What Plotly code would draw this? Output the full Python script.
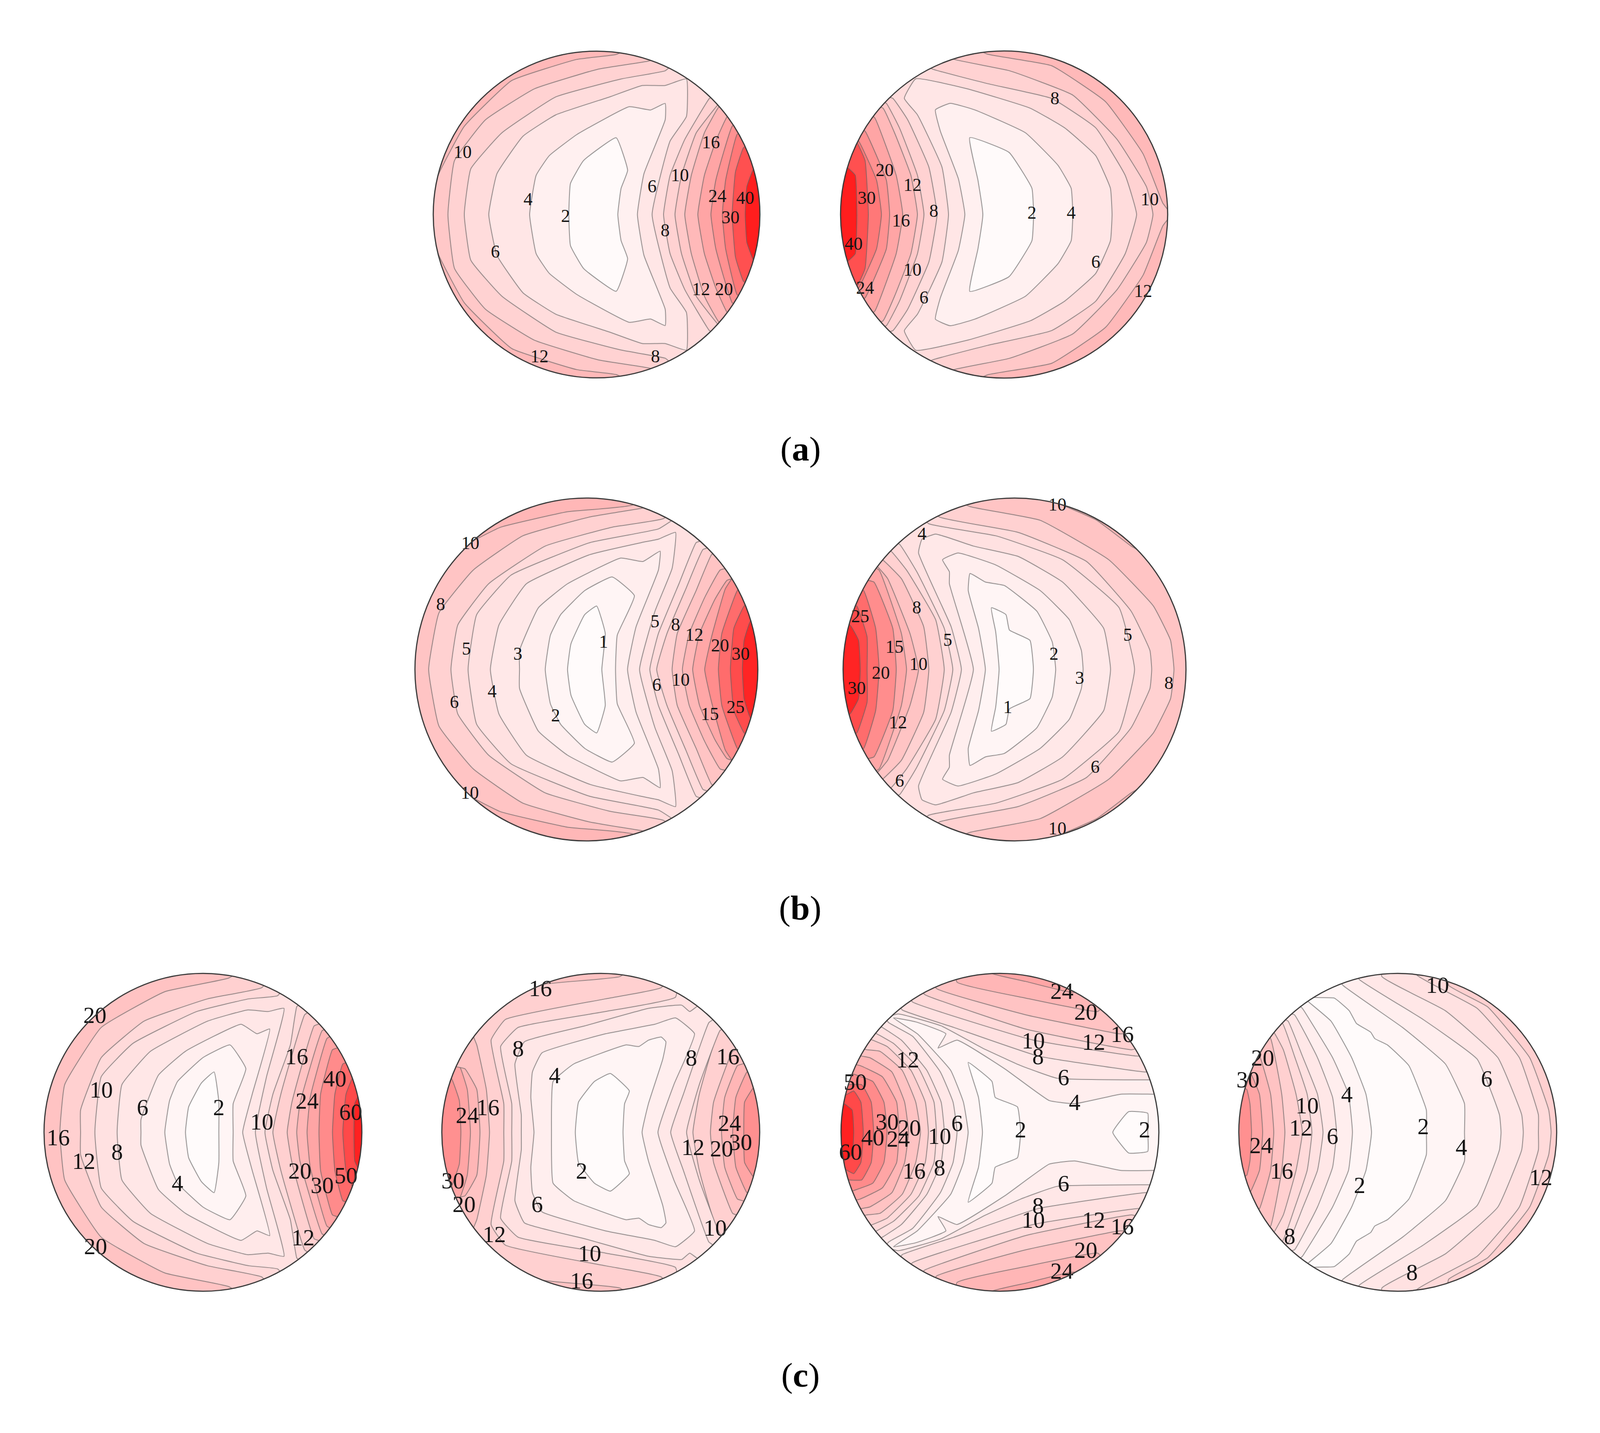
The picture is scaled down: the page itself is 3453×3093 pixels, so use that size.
import numpy as np
import plotly.graph_objects as go

W, H = 3453, 3093

# each entry: level -> (x list, y list), upper half of the contour in unit-disk coords
A1 = {
    2: ([.13, .15, .19, .12, -.08, -.16, -.17], [0, .16, .27, .47, .33, .19, 0]),
    4: ([.25, .29, .42, .42, .33, .20, -.12, -.29, -.37, -.41], [0, .25, .58, .68, .64, .66, .49, .36, .24, 0]),
    6: ([.34, .45, .55, .55, .42, .28, .08, -.25, -.45, -.61, -.66], [0, .45, .60, .83, .79, .79, .72, .61, .48, .25, 0]),
    8: ([.41, .45, .54, .69, .72, .65, .46, .42, .15, -.25, -.58, -.77, -.81], [0, .24, .46, .71, .73, .93, .91, .88, .83, .72, .50, .28, 0]),
    10: ([.48, .52, .61, .75, .78, .54, .32, .01, -.38, -.68, -.87, -.91], [0, .24, .50, .68, .70, 1.0, .94, .89, .77, .58, .33, 0]),
    12: ([.54, .58, .66, .75, .81, .40, .12, -.12, -.52, -.81, -.97, -1.02], [0, .24, .50, .66, .68, 1.10, .98, .95, .82, .54, .24, 0]),
    16: ([.62, .66, .73, .80, .85], [0, .24, .45, .60, .62]),
    20: ([.70, .73, .83, .89], [0, .21, .54, .58]),
    24: ([.77, .79, .86, .92], [0, .21, .49, .53]),
    30: ([.83, .85, .90, .96], [0, .26, .41, .44]),
    40: ([.91, .92, .97, 1.03], [0, .17, .30, .33]),
}
A2 = {
    2: ([-.13, -.16, -.21, .03, .17, .18], [0, .21, .47, .38, .16, 0]),
    4: ([-.24, -.28, -.39, -.42, -.33, -.18, .13, .33, .41, .42], [0, .22, .51, .64, .68, .64, .50, .30, .16, 0]),
    6: ([-.34, -.38, -.53, -.61, -.54, -.23, .16, .37, .56, .65, .66], [0, .29, .61, .71, .83, .77, .65, .53, .36, .16, 0]),
    8: ([-.41, -.46, -.59, -.68, -.74, -.55, -.44, -.10, .29, .56, .74, .81], [0, .29, .58, .71, .73, .95, .89, .80, .71, .53, .24, 0]),
    10: ([-.49, -.53, -.64, -.72, -.77, -.50, -.31, .03, .42, .69, .87, .91], [0, .24, .53, .68, .70, 1.05, .95, .88, .73, .46, .17, 0]),
    12: ([-.53, -.57, -.67, -.74, -.80, -.40, -.10, .29, .62, .85, .97, 1.02], [0, .24, .50, .65, .68, 1.1, .98, .91, .69, .37, .07, 0]),
    16: ([-.62, -.66, -.79, -.85], [0, .24, .59, .64]),
    20: ([-.70, -.72, -.85, -.90], [0, .21, .51, .54]),
    24: ([-.75, -.78, -.89, -.94], [0, .21, .45, .48]),
    30: ([-.83, -.85, -.90, -.95], [0, .33, .44, .46]),
    40: ([-.90, -.91, -.96, -1.0], [0, .24, .29, .32]),
}
B1 = {
    1: ([.09, .11, .06, -.01, -.09, -.11], [0, .21, .37, .32, .15, 0]),
    2: ([.17, .18, .28, .15, -.01, -.15, -.21, -.24], [0, .20, .43, .54, .46, .32, .20, 0]),
    3: ([.24, .29, .42, .43, .33, .20, -.11, -.28, -.39, -.39], [0, .25, .58, .69, .63, .65, .50, .36, .11, 0]),
    4: ([.31, .40, .50, .52, .42, .32, .02, -.35, -.51, -.56], [0, .34, .59, .80, .76, .74, .67, .50, .26, 0]),
    5: ([.37, .42, .54, .64, .69, .61, .50, .42, .02, -.44, -.64, -.69], [0, .21, .50, .74, .76, .95, .87, .82, .74, .55, .32, 0]),
    6: ([.41, .47, .58, .68, .74, .60, .45, .15, -.24, -.57, -.75, -.79], [0, .21, .47, .70, .72, 1.0, .88, .83, .72, .50, .26, 0]),
    8: ([.50, .53, .64, .73, .78, .55, .32, .02, -.37, -.66, -.86, -.92], [0, .21, .46, .67, .70, .98, .94, .89, .78, .58, .33, 0]),
    10: ([.56, .60, .69, .78, .85, .40, .27, -.11, -.50, -.68, -.90, -1.1], [0, .21, .42, .58, .60, 1.1, .96, .92, .83, .74, .60, 0]),
    12: ([.62, .66, .75, .82, .88], [0, .21, .41, .52, .54]),
    15: ([.69, .73, .81, .85, .90], [0, .19, .47, .53, .55]),
    20: ([.77, .79, .88, .93], [0, .21, .46, .50]),
    25: ([.84, .86, .92, .97], [0, .24, .37, .40]),
    30: ([.91, .92, .96, 1.02], [0, .17, .29, .31]),
}
B2 = {
    1: ([-.09, -.11, -.135, -.05, -.03, .09, .11], [0, .22, .36, .32, .23, .17, 0]),
    2: ([-.17, -.21, -.27, -.26, -.17, -.06, .13, .22, .24], [0, .24, .46, .56, .51, .49, .34, .16, 0]),
    3: ([-.24, -.38, -.38, -.42, -.33, -.11, .15, .32, .39, .40], [0, .50, .57, .64, .68, .61, .46, .29, .11, 0]),
    4: ([-.31, -.37, -.56, -.54, -.46, -.24, .02, .28, .52, .56], [0, .25, .68, .76, .79, .72, .66, .51, .24, 0]),
    5: ([-.36, -.41, -.57, -.67, -.72, -.62, -.50, -.11, .28, .61, .70], [0, .24, .57, .73, .75, .95, .85, .78, .64, .36, 0]),
    6: ([-.41, -.46, -.63, -.72, -.77, -.55, -.44, .02, .42, .68, .79, .80], [0, .29, .58, .69, .71, 1.0, .89, .80, .63, .34, .11, 0]),
    8: ([-.50, -.53, -.66, -.77, -.82, -.50, -.26, .15, .55, .81, .91, .93], [0, .25, .53, .64, .66, 1.05, .95, .87, .64, .37, .17, 0]),
    10: ([-.56, -.61, -.74, -.80, -.85, -.20, .25, .48, .68, .75, 1.05, 1.1], [0, .21, .53, .60, .62, 1.1, .97, .87, .72, .68, .50, 0]),
    12: ([-.63, -.66, -.79, -.86], [0, .21, .58, .62]),
    15: ([-.69, -.71, -.82, -.89], [0, .24, .51, .53]),
    20: ([-.79, -.81, -.88, -.95], [0, .24, .46, .49]),
    25: ([-.86, -.86, -.92, -.98], [0, .19, .37, .39]),
    30: ([-.90, -.91, -.96, -1.02], [0, .17, .26, .28]),
}
C1 = {
    2: ([.10, .10, .07, -.01, -.09, -.11], [0, .19, .38, .31, .16, 0]),
    4: ([.19, .19, .27, .17, 0, -.16, -.21, -.24], [0, .18, .40, .55, .47, .32, .20, 0]),
    6: ([.25, .31, .42, .34, .24, -.11, -.28, -.39, -.39], [0, .24, .65, .62, .68, .51, .36, .08, 0]),
    8: ([.33, .40, .51, .41, .28, .03, -.33, -.51, -.54], [0, .35, .78, .76, .77, .70, .51, .30, 0]),
    10: ([.39, .44, .55, .59, .62, .55, .47, .29, -.04, -.44, -.64, -.68], [0, .24, .55, .79, .82, .95, .86, .84, .76, .56, .35, 0]),
    12: ([.44, .49, .64, .68, .45, .37, .03, -.37, -.64, -.77, -.77], [0, .24, .74, .77, 1.0, .91, .84, .70, .47, .14, 0]),
    16: ([.53, .56, .70, .75, .40, .16, -.24, -.64, -.87, -.90], [0, .19, .67, .69, 1.1, .97, .885, .66, .30, 0]),
    20: ([.59, .61, .75, .80], [0, .18, .64, .66]),
    24: ([.655, .675, .78, .83], [0, .22, .59, .62]),
    30: ([.73, .74, .815, .87], [0, .24, .52, .54]),
    40: ([.815, .83, .88, .93], [0, .24, .43, .45]),
    50: ([.88, .90, .95, 1.0], [0, .24, .36, .38]),
    60: ([.95, .955, .985, 1.03], [0, .18, .24, .25]),
}
C2 = {
    2: ([.14, .15, .18, .06, -.04, -.14, -.16], [0, .18, .26, .37, .32, .19, 0]),
    4: ([.26, .30, .39, .41, .38, .30, .24, .16, -.17, -.30, -.31], [0, .18, .46, .57, .60, .58, .54, .55, .43, .32, 0]),
    6: ([.36, .46, .59, .47, .34, .03, -.37, -.43, -.44, -.42], [0, .30, .62, .72, .68, .62, .50, .38, .22, 0]),
    8: ([.44, .52, .68, .72, .62, .56, .51, .30, -.10, -.48, -.54, -.50, -.50], [0, .24, .69, .72, .80, .76, .80, .78, .67, .57, .43, .11, 0]),
    10: ([.54, .62, .75, .78, .50, .47, .03, -.52, -.63, -.56, -.56], [0, .30, .64, .66, 1.0, .85, .76, .66, .54, .18, 0]),
    12: ([.58, .62, .74, .78, .50, .38, .03, -.60, -.69, -.61, -.61], [0, .24, .64, .66, 1.05, .91, .84, .71, .58, .18, 0]),
    16: ([.69, .71, .83, .88, .30, .12, -.37, -.85, -.80, -.78, -.72, -.70], [0, .19, .51, .53, 1.1, .98, .93, .75, .60, .55, .27, 0]),
    20: ([.76, .78, .86, .92, 1.2, -1.2, -.93, -.855, -.78, -.76], [0, .22, .42, .44, 1.2, 1.2, .42, .40, .27, 0]),
    24: ([.83, .85, .92, .98, 1.2, -1.2, -.94, -.89, -.84, -.82], [0, .22, .38, .40, 1.2, 1.2, .44, .42, .27, 0]),
    30: ([.90, .905, .96, 1.0, 1.2, -1.2, -.98, -.94, -.89, -.88], [0, .19, .28, .30, 1.2, 1.2, .36, .34, .20, 0]),
}
C3 = {
    2: ([-.11, -.135, -.20, -.05, -.03, .11, .13], [0, .22, .44, .32, .22, .16, 0]),
    4: ([-.20, -.23, -.31, -.52, -.67, -.53, -.34, -.39, -.27, .03, .31, .47, .76, .96, 1.1, 1.1],
        [0, .19, .39, .62, .72, .695, .62, .53, .58, .40, .20, .18, .24, .24, .24, 0]),
    6: ([-.27, -.295, -.375, -.55, -.70, -.72, -.64, -.37, -.11, .13, .36, .93, 1.1, 1.1],
        [0, .19, .38, .605, .69, .72, .745, .67, .53, .42, .34, .33, .33, 0]),
    8: ([-.35, -.37, -.46, -.62, -.74, -.78, -.65, -.615, -.29, .24, .91, 1.1, 1.1],
        [0, .19, .39, .58, .66, .68, .82, .77, .66, .48, .38, .38, 0]),
    10: ([-.40, -.415, -.51, -.67, -.775, -.82, -.60, -.55, .21, .86, 1.1, 1.1],
         [0, .19, .40, .56, .62, .64, .88, .82, .58, .48, .48, 0]),
    12: ([-.45, -.47, -.56, -.71, -.80, -.85, -.55, -.47, .16, .83, .90, 1.1, 1.1],
         [0, .19, .39, .54, .58, .60, .93, .865, .65, .52, .54, .54, 0]),
    16: ([-.50, -.53, -.615, -.755, -.84, -.90, -.45, -.40, .16, .75, .82, 1.1, 1.1],
         [0, .19, .39, .51, .52, .54, 1.0, .905, .74, .62, .62, .5, 0]),
    20: ([-.575, -.60, -.68, -.82, -.87, -.93, -.30, -.27, .16, .615, .66, 1.2, 1.2],
         [0, .19, .38, .47, .48, .50, 1.1, .945, .845, .76, .80, .6, 0]),
    24: ([-.635, -.65, -.74, -.88, -.95, -.30, -.05, .16, .47, .50, 1.2, 1.2],
         [0, .19, .35, .42, .44, 1.2, 1.0, .95, .88, .95, .8, 0]),
    30: ([-.71, -.73, -.80, -.93, -.98], [0, .19, .32, .37, .39]),
    40: ([-.795, -.81, -.87, -.96, -1.0], [0, .19, .30, .30, .31]),
    50: ([-.86, -.875, -.92, -.98, -1.02], [0, .19, .26, .23, .24]),
    60: ([-.92, -.93, -.98, -1.02], [0, .14, .18, .19]),
}
C3_ISLAND_X = [.71, .81, .93, .93]
C3_ISLAND_Y = [0, .13, .12, 0]
C4 = {
    2: ([-.165, -.20, -.29, -.42, -.56, -.58, -.55, -.53, -.40, -.305, -.26, -.17, -.145, -.065, .07, .18, .18],
        [0, .24, .47, .70, .82, .84, .88, .85, .845, .765, .685, .63, .59, .55, .42, .14, 0]),
    4: ([-.285, -.31, -.41, -.60, -.62, -.40, -.345, .03, .30, .42, .42], [0, .24, .47, .78, .80, 1.0, .925, .66, .43, .18, 0]),
    6: ([-.385, -.41, -.505, -.65, -.69, -.30, -.24, .16, .50, .64, .65], [0, .22, .47, .74, .75, 1.05, .96, .71, .46, .11, 0]),
    8: ([-.47, -.505, -.60, -.69, -.73, -.10, -.10, .30, .63, .78, .79], [0, .24, .48, .70, .72, 1.1, .98, .765, .47, .11, 0]),
    10: ([-.54, -.57, -.65, -.725, -.77, .10, .12, .50, .765, .885, .885], [0, .24, .48, .685, .69, 1.1, .99, .78, .47, .11, 0]),
    12: ([-.60, -.64, -.72, -.78, -.82, .30, .32, .565, .83, .95, .965], [0, .24, .52, .63, .65, 1.05, .925, .79, .47, .14, 0]),
    16: ([-.71, -.73, -.80, -.84], [0, .24, .59, .61]),
    20: ([-.78, -.80, -.87, -.91], [0, .24, .48, .50]),
    24: ([-.85, -.87, -.93, -.97], [0, .24, .38, .40]),
    30: ([-.92, -.93, -.95, -.99], [0, .18, .27, .29]),
}

# contour labels: text, x, y in unit-disk coords
A1_LABELS = [("10", -.82, .38), ("4", -.42, .09), ("2", -.19, -.01), ("6", -.62, -.23), ("6", .34, .17),
             ("10", .51, .24), ("8", .42, -.10), ("16", .70, .44), ("24", .74, .11), ("40", .91, .10),
             ("30", .82, -.02), ("12", .64, -.46), ("20", .78, -.46), ("12", -.35, -.87), ("8", .36, -.87)]
A2_LABELS = [("8", .31, .71), ("20", -.73, .27), ("12", -.56, .18), ("30", -.84, .10), ("8", -.43, .02),
             ("16", -.63, -.04), ("2", .17, .01), ("4", .41, .01), ("10", .89, .09), ("40", -.92, -.18),
             ("10", -.56, -.34), ("6", .56, -.29), ("12", .85, -.47), ("24", -.85, -.45), ("6", -.49, -.51)]
B1_LABELS = [("10", -.68, .74), ("8", -.85, .38), ("5", -.70, .12), ("3", -.40, .09), ("1", .10, .16),
             ("5", .40, .28), ("8", .52, .26), ("12", .63, .20), ("20", .78, .14), ("30", .90, .09),
             ("6", .41, -.09), ("10", .55, -.06), ("4", -.55, -.13), ("6", -.77, -.19), ("2", -.18, -.27),
             ("15", .72, -.26), ("25", .87, -.22), ("10", -.68, -.72)]
B2_LABELS = [("10", .25, .96), ("4", -.54, .79), ("8", -.57, .36), ("25", -.90, .31), ("5", -.39, .17),
             ("5", .66, .20), ("15", -.70, .13), ("2", .23, .09), ("10", -.56, .03), ("20", -.78, -.02),
             ("3", .38, -.05), ("8", .90, -.08), ("30", -.92, -.11), ("1", -.04, -.22), ("12", -.68, -.31),
             ("6", .47, -.57), ("6", -.67, -.65), ("10", .25, -.93)]
C1_LABELS = [("20", -.68, .74), ("16", .59, .48), ("40", .83, .34), ("10", -.64, .27), ("24", .655, .20),
             ("6", -.38, .16), ("2", .10, .16), ("60", .93, .13), ("10", .37, .07), ("16", -.91, -.03),
             ("8", -.54, -.12), ("12", -.75, -.18), ("20", .61, -.24), ("50", .90, -.27), ("30", .75, -.33),
             ("4", -.16, -.32), ("12", .63, -.66), ("20", -.68, -.72)]
C2_LABELS = [("16", -.38, .91), ("8", -.52, .53), ("16", .80, .48), ("8", .57, .47), ("4", -.29, .36),
             ("16", -.71, .16), ("24", -.84, .11), ("24", .81, .06), ("30", .88, -.06), ("12", .58, -.09),
             ("20", .76, -.10), ("2", -.12, -.24), ("30", -.93, -.30), ("20", -.86, -.45), ("6", -.40, -.45),
             ("10", .72, -.60), ("12", -.67, -.64), ("10", -.07, -.76), ("16", -.12, -.93)]
C3_LABELS = [("24", .39, .89), ("20", .54, .76), ("16", .77, .62), ("12", .59, .57), ("12", -.58, .46),
             ("10", .21, .58), ("8", .24, .48), ("6", .40, .35), ("50", -.91, .32), ("4", .47, .19),
             ("30", -.71, .07), ("20", -.57, .03), ("6", -.27, .06), ("2", .13, .02), ("2", .91, .02),
             ("40", -.80, -.03), ("24", -.64, -.04), ("10", -.38, -.02), ("60", -.94, -.12), ("16", -.54, -.24),
             ("8", -.38, -.22), ("6", .40, -.32), ("8", .24, -.46), ("10", .21, -.55), ("12", .59, -.55),
             ("16", .77, -.59), ("20", .54, -.74), ("24", .39, -.87)]
C4_LABELS = [("10", .25, .93), ("20", -.85, .47), ("30", -.96, .34), ("6", .56, .34), ("4", -.32, .24),
             ("10", -.57, .17), ("12", -.61, .03), ("2", .16, .04), ("6", -.41, -.02), ("24", -.86, -.08),
             ("4", .40, -.09), ("16", -.73, -.24), ("12", .90, -.28), ("2", -.24, -.33), ("8", -.68, -.65),
             ("8", .09, -.88)]

CAPTIONS = ["(<b>a</b>)", "(<b>b</b>)", "(<b>c</b>)"]

LINE = "rgba(95,95,95,0.62)"
FONT = "Liberation Serif"


def band_color(levels, i, k):
    # value -> white..red ramp, band below levels[i] (i == len -> top band)
    if i == 0:
        mid = levels[0] * .5
    elif i == len(levels):
        mid = levels[-1] * 1.12
    else:
        mid = (levels[i - 1] + levels[i]) / 2
    g = int(max(28, 255 - k * mid))
    return f"rgb(255,{g},{g})"


def closed(xs, ys):
    xs, ys = list(xs), list(ys)
    if ys[-1] != 0:
        # contour left the disk, go round outside it
        s = 1 if xs[0] > 0 else -1
        xs += [s * 1.5, -s * 1.5, -s * 1.5]
        ys += [1.5, 1.5, 0]
    return xs + xs[-2::-1], ys + [-y for y in ys[-2::-1]]


def polar_xy(xs, ys):
    xs, ys = np.array(xs, float), np.array(ys, float)
    return np.hypot(xs, ys), np.degrees(np.arctan2(ys, xs))


fig = go.Figure()


def add_disk(n, contours, labels, cx, cy, R, k, fsize, dy, extra=None):
    name = "polar" if n == 1 else f"polar{n}"
    levels = sorted(contours)
    fig.update_layout({name: dict(
        domain=dict(x=[(cx - R) / W, (cx + R) / W], y=[1 - (cy + R) / H, 1 - (cy - R) / H]),
        bgcolor=band_color(levels, len(levels), k),
        radialaxis=dict(visible=False, range=[0, 1]),
        angularaxis=dict(showticklabels=False, ticks="", showgrid=False, linecolor="#3a3a3a", linewidth=2.5),
    )})
    for i in range(len(levels) - 1, -1, -1):
        xs, ys = contours[levels[i]]
        polys = [closed(xs, ys)]
        if extra is not None and levels[i] == extra[0]:
            polys.append(closed(extra[1], extra[2]))
        for px, py in polys:
            r, th = polar_xy(px, py)
            fig.add_trace(go.Scatterpolar(r=r, theta=th, subplot=name, mode="lines", fill="toself",
                                          fillcolor=band_color(levels, i, k),
                                          line=dict(color=LINE, width=2, shape="spline", smoothing=.35),
                                          cliponaxis=True, hoverinfo="skip", showlegend=False))
    r, th = polar_xy([l[1] for l in labels], [l[2] - dy for l in labels])
    # text past the radial range gets dropped, keep the edge labels just inside
    r = np.minimum(r, .995)
    fig.add_trace(go.Scatterpolar(r=r, theta=th, subplot=name, mode="text", text=[l[0] for l in labels],
                                  textposition="middle center", cliponaxis=False,
                                  textfont=dict(family=FONT, size=fsize, color="#141414"),
                                  hoverinfo="skip", showlegend=False))


add_disk(1, A1, A1_LABELS, 1287.5, 463, 352.5, 5.0, 39, .007)
add_disk(2, A2, A2_LABELS, 2167, 463, 353, 5.0, 39, .007)
add_disk(3, B1, B1_LABELS, 1265.5, 1445, 370, 6.5, 39, .007)
add_disk(4, B2, B2_LABELS, 2189.5, 1445, 370, 6.5, 39, .007)
add_disk(5, C1, C1_LABELS, 438, 2444, 343, 3.3, 50, .015)
add_disk(6, C2, C2_LABELS, 1296.5, 2444, 343, 3.3, 50, .015)
add_disk(7, C3, C3_LABELS, 2158, 2444, 343, 3.3, 50, .015, extra=(2, C3_ISLAND_X, C3_ISLAND_Y))
add_disk(8, C4, C4_LABELS, 3016.5, 2444, 343, 3.3, 50, .015)

for cap, yc in zip(CAPTIONS, [968, 1960, 2967]):
    fig.add_annotation(text=cap, x=1727 / W, y=1 - yc / H, xref="paper", yref="paper", showarrow=False,
                       xanchor="center", yanchor="middle", font=dict(family=FONT, size=75, color="black"))

fig.update_layout(width=W, height=H, margin=dict(l=0, r=0, t=0, b=0), paper_bgcolor="white", showlegend=False)
fig.write_html("out.html", config={"displayModeBar": False}, post_script="document.body.style.margin='0';")
